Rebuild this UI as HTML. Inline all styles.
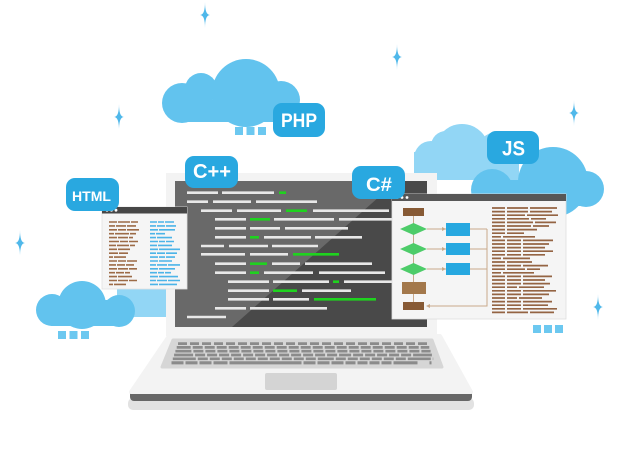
<!DOCTYPE html>
<html><head><meta charset="utf-8"><style>
html,body{margin:0;padding:0;background:#fff;}
svg{display:block;}
text{font-family:"Liberation Sans",Arial,sans-serif;font-weight:bold;fill:#fff;}
</style></head><body>
<svg width="644" height="453" viewBox="0 0 644 453" xmlns="http://www.w3.org/2000/svg">
<rect width="644" height="453" fill="#fff"/>
<!-- stars -->
<g fill="#4fb8ea">
<path d="M205,2 Q205,15 210,15 Q205,15 205,28 Q205,15 200,15 Q205,15 205,2Z"/>
<path d="M397,44 Q397,57 402,57 Q397,57 397,70 Q397,57 392,57 Q397,57 397,44Z"/>
<path d="M119,104 Q119,117 124,117 Q119,117 119,130 Q119,117 114,117 Q119,117 119,104Z"/>
<path d="M574,100 Q574,113 579,113 Q574,113 574,126 Q574,113 569,113 Q574,113 574,100Z"/>
<path d="M20,230 Q20,243 25,243 Q20,243 20,256 Q20,243 15,243 Q20,243 20,230Z"/>
<path d="M598,294 Q598,307 603,307 Q598,307 598,320 Q598,307 593,307 Q598,307 598,294Z"/>
</g>
<!-- PHP cloud -->
<g fill="#62c3ee">
<circle cx="182" cy="103" r="20"/>
<circle cx="201" cy="89" r="16"/>
<circle cx="246" cy="93" r="34"/>
<circle cx="281" cy="100" r="19"/>
<rect x="176" y="100" width="114" height="22" rx="3"/>
</g>
<g fill="#6cc8f0">
<rect x="235" y="127" width="8" height="8"/><rect x="246.5" y="127" width="8" height="8"/><rect x="258" y="127" width="8" height="8"/>
</g>
<!-- right light cloud -->
<g fill="#92d6f5">
<circle cx="431" cy="158" r="17"/>
<circle cx="446" cy="146" r="15"/>
<circle cx="462" cy="151" r="27"/>
<circle cx="497" cy="152" r="20"/>
<rect x="414" y="152" width="105" height="28"/>
</g>
<!-- right dark cloud -->
<g fill="#62c3ee">
<circle cx="492" cy="190" r="21"/>
<circle cx="553" cy="182" r="35"/>
<circle cx="586" cy="189" r="18"/>
<rect x="490" y="180" width="100" height="26" rx="3"/>
</g>
<g fill="#6cc8f0">
<rect x="533" y="325" width="8" height="8"/><rect x="544" y="325" width="8" height="8"/><rect x="555" y="325" width="8" height="8"/>
</g>
<!-- light blue rect behind html window -->
<rect x="117" y="285" width="49" height="32" fill="#92d6f5"/>
<!-- left cloud -->
<g fill="#62c3ee">
<circle cx="52" cy="310" r="16"/>
<circle cx="82" cy="305" r="24"/>
<circle cx="119" cy="311" r="16"/>
<rect x="50" y="300" width="72" height="26" rx="2"/>
</g>
<g fill="#6cc8f0">
<rect x="58" y="331" width="8" height="8"/><rect x="69.5" y="331" width="8" height="8"/><rect x="81" y="331" width="8" height="8"/>
</g>
<!-- laptop base -->
<rect x="128" y="398" width="346" height="12" rx="5" fill="#e2e2e2"/>
<rect x="130" y="390" width="342" height="11" rx="4" fill="#676767"/>
<polygon points="169,336 440,336 471,392 131,392" fill="#f3f3f3" stroke="#f3f3f3" stroke-width="4" stroke-linejoin="round"/>
<polygon points="173,340 432,340 442,367 162,367" fill="#d6d6d6" stroke="#d6d6d6" stroke-width="3" stroke-linejoin="round"/>
<g stroke="#8b8b8b" stroke-width="2.7">
<line x1="178" y1="343.6" x2="428" y2="343.6" stroke-dasharray="9 3"/>
<line x1="176.7" y1="347.4" x2="429.3" y2="347.4" stroke-dasharray="14 2 10 2 10 2 10 2 10 2 10 2 10 2 10 2 10 2 10 2 10 2 10 2 10 2 10 2 10 2 10 2 10 2 10 2 10 2 10 2"/>
<line x1="175.4" y1="351.2" x2="430.6" y2="351.2" stroke-dasharray="16 2 10 2 10 2 10 2 10 2 10 2 10 2 10 2 10 2 10 2 10 2 10 2 10 2 10 2 10 2 10 2 10 2 10 2 10 2 10 2"/>
<line x1="174.1" y1="355" x2="431.9" y2="355" stroke-dasharray="19 2 10 2 10 2 10 2 10 2 10 2 10 2 10 2 10 2 10 2 10 2 10 2 10 2 12 2 10 2 10 2 10 2 10 2 10 2"/>
<line x1="172.8" y1="358.8" x2="433.2" y2="358.8" stroke-dasharray="23 2 10 2 10 2 10 2 10 2 10 2 10 2 10 2 10 2 10 2 10 2 16 2 10 2 10 2 10 2 10 2 10 2 10 2"/>
<line x1="171.5" y1="362.8" x2="434.5" y2="362.8" stroke-width="3.2" stroke-dasharray="12 2 12 2 12 2 14 2 72 2 12 2 12 2 12 2 10 2 10 2 10 2 10 2 24"/>
</g>
<rect x="265" y="373" width="72" height="17" rx="2" fill="#d4d4d4"/>
<!-- lid -->
<rect x="166" y="173" width="271" height="163" fill="#f3f3f3"/>
<rect x="175" y="181" width="252" height="146" fill="#494949"/>
<polygon points="175,181 397,181 232,327 175,327" fill="#696969"/>
<!-- code lines -->
<g stroke="#e8e8e8" stroke-width="2.6">
<line x1="187" y1="192.7" x2="218" y2="192.7"/><line x1="222" y1="192.7" x2="274" y2="192.7"/>
<line x1="187" y1="201.7" x2="208" y2="201.7"/><line x1="213" y1="201.7" x2="251" y2="201.7"/><line x1="256" y1="201.7" x2="317" y2="201.7"/>
<line x1="201" y1="210.7" x2="232" y2="210.7"/><line x1="237" y1="210.7" x2="281" y2="210.7"/><line x1="313" y1="210.7" x2="389" y2="210.7"/>
<line x1="215" y1="219.3" x2="246" y2="219.3"/><line x1="274" y1="219.3" x2="334" y2="219.3"/><line x1="339" y1="219.3" x2="395" y2="219.3"/>
<line x1="215" y1="228.3" x2="246" y2="228.3"/><line x1="250" y1="228.3" x2="280" y2="228.3"/><line x1="285" y1="228.3" x2="348" y2="228.3"/>
<line x1="215" y1="237.3" x2="246" y2="237.3"/><line x1="264" y1="237.3" x2="311" y2="237.3"/><line x1="315" y1="237.3" x2="362" y2="237.3"/>
<line x1="201" y1="246" x2="224" y2="246"/><line x1="229" y1="246" x2="268" y2="246"/><line x1="272" y1="246" x2="318" y2="246"/>
<line x1="201" y1="254.3" x2="245" y2="254.3"/><line x1="250" y1="254.3" x2="288" y2="254.3"/>
<line x1="215" y1="263.7" x2="246" y2="263.7"/><line x1="272" y1="263.7" x2="300" y2="263.7"/><line x1="305" y1="263.7" x2="372" y2="263.7"/>
<line x1="215" y1="272.7" x2="246" y2="272.7"/><line x1="264" y1="272.7" x2="313" y2="272.7"/><line x1="319" y1="272.7" x2="385" y2="272.7"/>
<line x1="228" y1="281.7" x2="269" y2="281.7"/><line x1="273" y1="281.7" x2="329" y2="281.7"/><line x1="344" y1="281.7" x2="395" y2="281.7"/>
<line x1="228" y1="290.7" x2="269" y2="290.7"/><line x1="302" y1="290.7" x2="351" y2="290.7"/>
<line x1="228" y1="299.3" x2="269" y2="299.3"/><line x1="273" y1="299.3" x2="309" y2="299.3"/>
<line x1="215" y1="308.3" x2="246" y2="308.3"/><line x1="250" y1="308.3" x2="327" y2="308.3"/>
<line x1="187" y1="317" x2="226" y2="317"/>
</g>
<g stroke="#1fd21f" stroke-width="2.6">
<line x1="279" y1="192.7" x2="286" y2="192.7"/>
<line x1="286" y1="210.7" x2="307" y2="210.7"/>
<line x1="250" y1="219.3" x2="270" y2="219.3"/>
<line x1="250" y1="237.3" x2="259" y2="237.3"/>
<line x1="293" y1="254.3" x2="339" y2="254.3"/>
<line x1="250" y1="263.7" x2="267" y2="263.7"/>
<line x1="250" y1="272.7" x2="259" y2="272.7"/>
<line x1="333" y1="281.7" x2="339" y2="281.7"/>
<line x1="273" y1="290.7" x2="297" y2="290.7"/>
<line x1="314" y1="299.3" x2="376" y2="299.3"/>
</g>
<!-- HTML window -->
<rect x="102" y="207" width="85" height="82" fill="#f5f5f5" stroke="#e2e2e2" stroke-width="0.8"/>
<rect x="102" y="207" width="85" height="6.5" fill="#474747"/>
<g fill="#fff"><circle cx="107" cy="210.2" r="1.4"/><circle cx="111.5" cy="210.2" r="1.4"/><circle cx="116" cy="210.2" r="1.4"/></g>
<g stroke="#9c6b47" stroke-width="1.6">
<line x1="109" y1="222" x2="138" y2="222" stroke-dasharray="8 1 12 1 8"/>
<line x1="109" y1="225.9" x2="136" y2="225.9" stroke-dasharray="6 1 10 1 12"/>
<line x1="109" y1="229.8" x2="139" y2="229.8" stroke-dasharray="8 1 8 1 14"/>
<line x1="109" y1="233.7" x2="136" y2="233.7" stroke-dasharray="5 1 14 1 10"/>
<line x1="109" y1="237.6" x2="133" y2="237.6" stroke-dasharray="8 1 10 1 8"/>
<line x1="109" y1="241.5" x2="138" y2="241.5" stroke-dasharray="10 1 8 1 12"/>
<line x1="109" y1="245.4" x2="135" y2="245.4" stroke-dasharray="7 1 12 1 8"/>
<line x1="109" y1="249.3" x2="130" y2="249.3" stroke-dasharray="8 1 14"/>
<line x1="109" y1="253.2" x2="128" y2="253.2" stroke-dasharray="9 1 12"/>
<line x1="109" y1="257.1" x2="126" y2="257.1" stroke-dasharray="4 1 14"/>
<line x1="109" y1="261" x2="137" y2="261" stroke-dasharray="8 1 8 1 14"/>
<line x1="109" y1="264.9" x2="134" y2="264.9" stroke-dasharray="7 1 8 1 12"/>
<line x1="109" y1="268.8" x2="137" y2="268.8" stroke-dasharray="8 1 10 1 12"/>
<line x1="109" y1="272.7" x2="130" y2="272.7" stroke-dasharray="6 1 8 1 8"/>
<line x1="109" y1="276.6" x2="133" y2="276.6" stroke-dasharray="8 1 14"/>
<line x1="109" y1="280.5" x2="137" y2="280.5" stroke-dasharray="8 1 10 1 12"/>
<line x1="109" y1="284.4" x2="126" y2="284.4" stroke-dasharray="4 1 14"/>
</g>
<g stroke="#4bb4e8" stroke-width="1.6">
<line x1="150" y1="222" x2="174" y2="222" stroke-dasharray="7 1 6 1 10"/>
<line x1="150" y1="225.9" x2="176" y2="225.9" stroke-dasharray="6 1 8 1 12"/>
<line x1="150" y1="229.8" x2="175" y2="229.8" stroke-dasharray="8 1 16"/>
<line x1="150" y1="233.7" x2="165" y2="233.7" stroke-dasharray="5 1 10"/>
<line x1="150" y1="237.6" x2="172" y2="237.6" stroke-dasharray="6 1 16"/>
<line x1="150" y1="241.5" x2="174" y2="241.5" stroke-dasharray="8 1 6 1 10"/>
<line x1="150" y1="245.4" x2="172" y2="245.4" stroke-dasharray="7 1 14"/>
<line x1="150" y1="249.3" x2="180" y2="249.3" stroke-dasharray="8 1 22"/>
<line x1="150" y1="253.2" x2="177" y2="253.2" stroke-dasharray="6 1 8 1 12"/>
<line x1="150" y1="257.1" x2="175" y2="257.1" stroke-dasharray="8 1 6 1 10"/>
<line x1="150" y1="261" x2="172" y2="261" stroke-dasharray="8 1 14"/>
<line x1="150" y1="264.9" x2="180" y2="264.9" stroke-dasharray="6 1 10 1 12"/>
<line x1="150" y1="268.8" x2="175" y2="268.8" stroke-dasharray="8 1 16"/>
<line x1="150" y1="272.7" x2="171" y2="272.7" stroke-dasharray="7 1 6 1 8"/>
<line x1="150" y1="276.6" x2="178" y2="276.6" stroke-dasharray="8 1 20"/>
<line x1="150" y1="280.5" x2="180" y2="280.5" stroke-dasharray="6 1 10 1 12"/>
<line x1="150" y1="284.4" x2="177" y2="284.4" stroke-dasharray="8 1 18"/>
</g>
<!-- right window -->
<rect x="392" y="194" width="174" height="125" fill="#f5f5f5" stroke="#dedede" stroke-width="0.8"/>
<rect x="392" y="194" width="174" height="7" fill="#575757"/>
<g fill="#fff"><circle cx="397" cy="197.5" r="1.4"/><circle cx="402" cy="197.5" r="1.4"/><circle cx="407" cy="197.5" r="1.4"/></g>
<!-- flowchart connectors -->
<g stroke="#c9a98a" stroke-width="1" fill="none">
<line x1="413.5" y1="216" x2="413.5" y2="302"/>
<line x1="427" y1="229" x2="446" y2="229"/>
<line x1="427" y1="249" x2="446" y2="249"/>
<line x1="427" y1="269" x2="446" y2="269"/>
<line x1="470" y1="229" x2="487" y2="229"/>
<line x1="470" y1="249" x2="487" y2="249"/>
<line x1="470" y1="269" x2="487" y2="269"/>
<polyline points="487,229 487,306 427,306"/>
</g>
<g fill="#c9a98a">
<polygon points="446,229 442,227 442,231"/>
<polygon points="446,249 442,247 442,251"/>
<polygon points="446,269 442,267 442,271"/>
<polygon points="426,306 430,304 430,308"/>
</g>
<rect x="403" y="208" width="21" height="8" fill="#875a35"/>
<g fill="#4dcc69">
<polygon points="413.5,223 427,229 413.5,235 400,229"/>
<polygon points="413.5,243 427,249 413.5,255 400,249"/>
<polygon points="413.5,263 427,269 413.5,275 400,269"/>
</g>
<g fill="#27a8e0">
<rect x="446" y="223" width="24" height="13"/>
<rect x="446" y="243" width="24" height="12"/>
<rect x="446" y="263" width="24" height="12"/>
</g>
<rect x="402" y="282" width="24" height="12" fill="#a3784b"/>
<rect x="403" y="302" width="21" height="8" fill="#875a35"/>
<g stroke="#946443" stroke-width="1.7">
<line x1="492" y1="208" x2="557" y2="208" stroke-dasharray="13 2 21 2 27"/>
<line x1="492" y1="211.6" x2="552" y2="211.6" stroke-dasharray="13 2 21 2 22"/>
<line x1="492" y1="215.2" x2="558" y2="215.2" stroke-dasharray="13 2 18 2 31"/>
<line x1="492" y1="218.8" x2="546" y2="218.8" stroke-dasharray="13 2 22 2 15"/>
<line x1="492" y1="222.4" x2="556" y2="222.4" stroke-dasharray="13 2 26 2 21"/>
<line x1="492" y1="226" x2="549" y2="226" stroke-dasharray="13 2 24 2 16"/>
<line x1="492" y1="229.6" x2="537" y2="229.6" stroke-dasharray="13 2 30"/>
<line x1="492" y1="233.2" x2="524" y2="233.2" stroke-dasharray="13 2 17"/>
<line x1="492" y1="236.8" x2="535" y2="236.8" stroke-dasharray="9 2 32"/>
<line x1="492" y1="240.4" x2="553" y2="240.4" stroke-dasharray="13 2 14 2 30"/>
<line x1="492" y1="244" x2="549" y2="244" stroke-dasharray="13 2 14 2 26"/>
<line x1="492" y1="247.6" x2="545" y2="247.6" stroke-dasharray="13 2 14 2 22"/>
<line x1="492" y1="251.2" x2="553" y2="251.2" stroke-dasharray="13 2 14 2 30"/>
<line x1="492" y1="254.8" x2="545" y2="254.8" stroke-dasharray="13 2 14 2 22"/>
<line x1="492" y1="258.4" x2="530" y2="258.4" stroke-dasharray="9 2 27"/>
<line x1="492" y1="262" x2="532" y2="262" stroke-dasharray="13 2 25"/>
<line x1="492" y1="265.6" x2="548" y2="265.6" stroke-dasharray="13 2 14 2 25"/>
<line x1="492" y1="269.2" x2="540" y2="269.2" stroke-dasharray="13 2 18 2 15"/>
<line x1="492" y1="272.8" x2="534" y2="272.8" stroke-dasharray="9 2 31"/>
<line x1="492" y1="276.4" x2="552" y2="276.4" stroke-dasharray="13 2 14 2 29"/>
<line x1="492" y1="280" x2="545" y2="280" stroke-dasharray="13 2 14 2 22"/>
<line x1="492" y1="283.6" x2="550" y2="283.6" stroke-dasharray="13 2 14 2 27"/>
<line x1="492" y1="287.2" x2="544" y2="287.2" stroke-dasharray="13 2 10 2 25"/>
<line x1="492" y1="290.8" x2="556" y2="290.8" stroke-dasharray="13 2 14 2 33"/>
<line x1="492" y1="294.4" x2="549" y2="294.4" stroke-dasharray="13 2 14 2 26"/>
<line x1="492" y1="298" x2="542" y2="298" stroke-dasharray="13 2 10 2 23"/>
<line x1="492" y1="301.6" x2="552" y2="301.6" stroke-dasharray="13 2 14 2 29"/>
<line x1="492" y1="305.2" x2="548" y2="305.2" stroke-dasharray="13 2 14 2 25"/>
<line x1="492" y1="308.8" x2="557" y2="308.8" stroke-dasharray="13 2 14 2 34"/>
<line x1="492" y1="312.4" x2="554" y2="312.4" stroke-dasharray="13 2 21 2 26"/>
</g>
<!-- badges -->
<g fill="#29a8e0">
<rect x="273" y="103" width="52" height="34" rx="9"/>
<rect x="487" y="131" width="52" height="33" rx="9"/>
<rect x="66" y="178" width="53" height="33" rx="9"/>
<rect x="185" y="156" width="53" height="32" rx="9"/>
<rect x="352" y="166" width="53" height="33" rx="9"/>
</g>
<text x="281" y="127" font-size="19" textLength="36" lengthAdjust="spacingAndGlyphs">PHP</text>
<text x="502" y="155.5" font-size="21" textLength="23" lengthAdjust="spacingAndGlyphs">JS</text>
<text x="72" y="201" font-size="14" textLength="39" lengthAdjust="spacingAndGlyphs">HTML</text>
<text x="193" y="178" font-size="20" textLength="38" lengthAdjust="spacingAndGlyphs">C++</text>
<text x="366" y="191" font-size="19.5" textLength="26" lengthAdjust="spacingAndGlyphs">C#</text>
</svg>
</body></html>
